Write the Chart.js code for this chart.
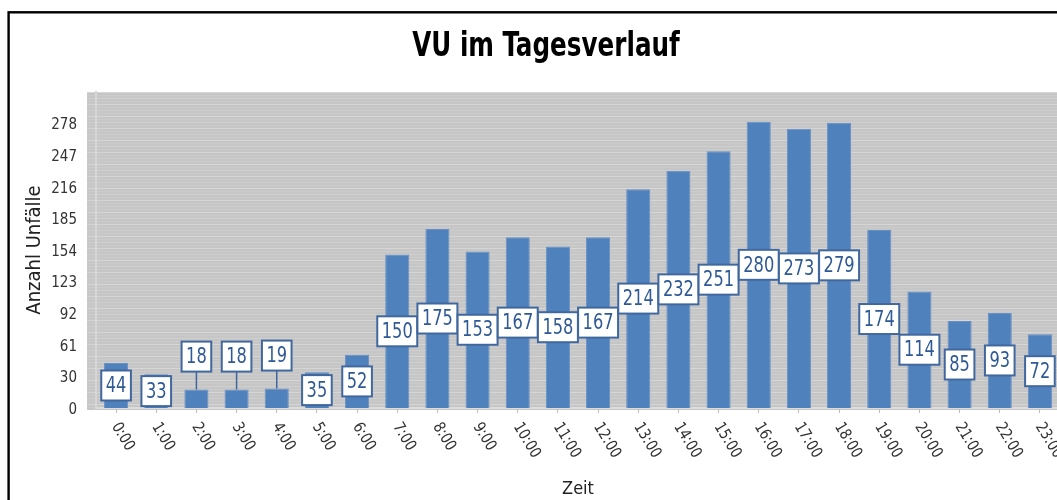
<!DOCTYPE html>
<html>
<head>
<meta charset="utf-8">
<title>VU im Tagesverlauf</title>
<script src="https://cdn.jsdelivr.net/npm/chart.js@4.4.1/dist/chart.umd.min.js"></script>
<style>
  html, body { margin: 0; padding: 0; background: #fff; overflow: hidden; }
  canvas { display: block; }
</style>
</head>
<body>
<canvas id="chart" width="1090" height="510"></canvas>
<script>
// Daten aus dem Bild
const hours = ['0:00', '1:00', '2:00', '3:00', '4:00', '5:00', '6:00', '7:00', '8:00', '9:00', '10:00', '11:00',
  '12:00', '13:00', '14:00', '15:00', '16:00', '17:00', '18:00', '19:00', '20:00', '21:00', '22:00', '23:00'];
const unfaelle = [44, 33, 18, 18, 19, 35, 52, 150, 175, 153, 167, 158, 167, 214, 232, 251, 280, 273, 279, 174, 114, 85, 93, 72];
const yTickLabels = ['0', '30', '61', '92', '123', '154', '185', '216', '247', '278'];
const yMax = 309;
const yStep = 30.9;
const chartTitle = 'VU im Tagesverlauf';

const FONT = "'DejaVu Sans Condensed', 'DejaVu Sans', sans-serif";

// schmale Schrift: Text horizontal gestaucht zeichnen
function drawNarrowText(ctx, text, x, y, sx) {
  ctx.save();
  ctx.translate(x, y);
  ctx.scale(sx, 1);
  ctx.fillText(text, 0, 0);
  ctx.restore();
}

// Rahmen, Titel und gestreifter Hintergrund
const backgroundPlugin = {
  id: 'background',
  beforeDraw(chart) {
    const { ctx, chartArea } = chart;
    ctx.save();
    // schwarzer Rahmen
    ctx.strokeStyle = '#000';
    ctx.lineWidth = 2.4;
    ctx.strokeRect(8.6, 12.3, 2000, 2000);

    // Titel
    ctx.fillStyle = '#000';
    ctx.font = 'bold 33px ' + FONT;
    ctx.textAlign = 'center';
    ctx.textBaseline = 'middle';
    drawNarrowText(ctx, chartTitle, 546, 47, 0.83);

    // grauer Plotbereich mit Streifen
    const left = chartArea.left - 9;
    const top = chartArea.top;
    const w = chart.width - left;
    const h = chartArea.bottom - top + 2;
    ctx.fillStyle = '#c6c6c6';
    ctx.fillRect(left, top, w, h);
    for (let y = top; y < top + h; y += 3) {
      const k = Math.round(y - top) % 12;
      ctx.fillStyle = k === 0 ? '#d6d6d6' : (k === 6 ? '#cfcfcf' : '#cbcbcb');
      ctx.fillRect(left, y, w, 1);
    }
    ctx.restore();
  }
};

// Beschriftung der x-Achse (schräg nach rechts unten)
const xLabelsPlugin = {
  id: 'xLabels',
  afterDraw(chart) {
    const { ctx } = chart;
    const xScale = chart.scales.x;
    ctx.save();
    ctx.font = '16px ' + FONT;
    ctx.fillStyle = '#333';
    ctx.textAlign = 'left';
    ctx.textBaseline = 'middle';
    hours.forEach((label, i) => {
      const x = xScale.getPixelForValue(i);
      ctx.save();
      ctx.translate(x - 1, 424);
      ctx.rotate(59 * Math.PI / 180);
      ctx.scale(0.92, 1);
      ctx.fillText(label, 0, 0);
      ctx.restore();
    });
    ctx.restore();
  }
};

// Wertekästchen auf den Balken
const valueBoxPlugin = {
  id: 'valueBoxes',
  afterDatasetsDraw(chart) {
    const { ctx } = chart;
    const meta = chart.getDatasetMeta(0);
    const sx = 0.82;
    ctx.save();
    ctx.font = '22px ' + FONT;
    ctx.textAlign = 'center';
    ctx.textBaseline = 'middle';
    meta.data.forEach((bar, i) => {
      const text = String(unfaelle[i]);
      const boxW = ctx.measureText(text).width * sx + 9;
      const boxH = 30;
      const barH = bar.base - bar.y;
      let cy = bar.y + barH / 2;
      if (barH < boxH) {
        // zu kleiner Balken: Kästchen darüber mit Verbindungslinie
        cy = bar.y - 18 - boxH / 2;
        ctx.strokeStyle = '#3f669c';
        ctx.lineWidth = 1.5;
        ctx.beginPath();
        ctx.moveTo(bar.x, cy + boxH / 2);
        ctx.lineTo(bar.x, bar.y);
        ctx.stroke();
      }
      ctx.fillStyle = '#fff';
      ctx.fillRect(bar.x - boxW / 2, cy - boxH / 2, boxW, boxH);
      ctx.strokeStyle = '#41689e';
      ctx.lineWidth = 2;
      ctx.strokeRect(bar.x - boxW / 2, cy - boxH / 2, boxW, boxH);
      ctx.fillStyle = '#2f5a95';
      drawNarrowText(ctx, text, bar.x, cy + 1, sx);
    });
    ctx.restore();
  }
};

const chart = new Chart(document.getElementById('chart'), {
  type: 'bar',
  data: {
    labels: hours,
    datasets: [{
      label: 'Anzahl Unfälle',
      data: unfaelle,
      backgroundColor: '#4f81bd',
      borderColor: '#6890c6',
      borderWidth: 1,
      barPercentage: 0.6,
      categoryPercentage: 1.0
    }]
  },
  options: {
    responsive: false,
    animation: false,
    devicePixelRatio: 1,
    layout: { padding: { left: 0, right: 30, top: 92, bottom: 0 } },
    plugins: {
      legend: { display: false },
      tooltip: { enabled: false },
      title: { display: false }
    },
    scales: {
      x: {
        grid: { display: true, drawOnChartArea: false, offset: false, tickLength: 5, color: '#bdbdbd' },
        border: { display: true, color: '#dcdcdc', width: 2 },
        ticks: { display: false },
        title: {
          display: true,
          text: 'Zeit',
          color: '#222',
          font: { family: FONT, size: 18, lineHeight: 1.2 },
          padding: { top: 0, bottom: 10 }
        },
        afterFit(scale) { scale.height = 102; }
      },
      y: {
        min: 0,
        max: yMax,
        grid: { display: false, drawTicks: false },
        border: { display: true, color: '#d6d6d6', width: 2 },
        ticks: {
          stepSize: yStep,
          padding: 19,
          labelOffset: 2,
          color: '#333',
          font: { family: FONT, size: 15 },
          callback: (value, index) => yTickLabels[index] ?? ''
        },
        title: {
          display: true,
          text: 'Anzahl Unfälle',
          color: '#222',
          font: { family: FONT, size: 20, lineHeight: 1.2 },
          padding: { top: 23, bottom: 0 }
        },
        afterFit(scale) { scale.width = 96; }
      }
    }
  },
  plugins: [backgroundPlugin, valueBoxPlugin, xLabelsPlugin]
});
</script>
</body>
</html>
